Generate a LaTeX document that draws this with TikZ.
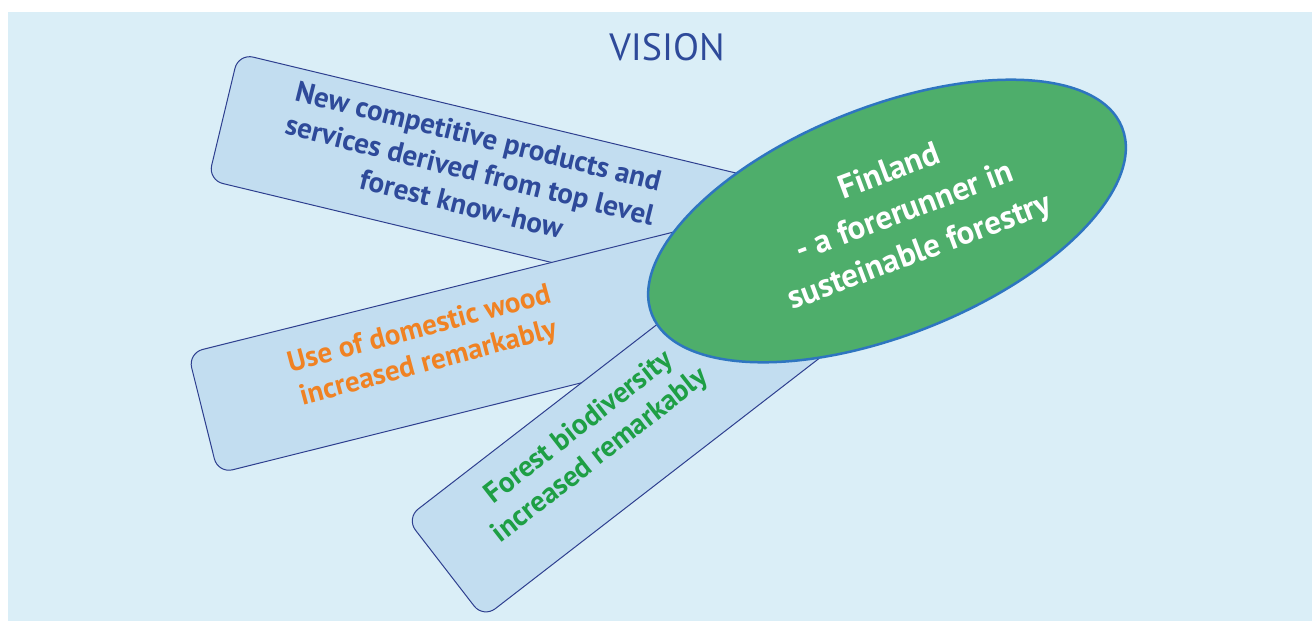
\documentclass[tikz,border=0pt]{standalone}
\usepackage{fontspec}
\setmainfont{PT Sans}
\usetikzlibrary{shapes.geometric}
\definecolor{bgblue}{HTML}{DAEEF7}
\definecolor{boxfill}{HTML}{C2DDF0}
\definecolor{boxline}{HTML}{2E3F8F}
\definecolor{ellfill}{HTML}{4EAE6B}
\definecolor{ellline}{HTML}{2E75C0}
\definecolor{txtblue}{HTML}{2E4A9A}
\definecolor{txtorange}{HTML}{F08223}
\definecolor{txtgreen}{HTML}{1E9F45}
\tikzset{
  boxshape/.style={rectangle, rounded corners=15pt, draw=boxline, fill=boxfill, line width=1pt, inner sep=0pt},
  boxtext/.style={align=center, inner sep=0pt, font=\bfseries\fontsize{29}{35}\selectfont},
  ellshape/.style={ellipse, draw=ellline, fill=ellfill, line width=2.5pt, inner sep=0pt, minimum width=506pt, minimum height=228pt},
  elltext/.style={align=center, inner sep=0pt, text=white, font=\bfseries\fontsize{33}{43}\selectfont},
  titletext/.style={inner sep=0pt, text=txtblue, font=\fontsize{38}{44}\selectfont}
}
\begin{document}
\begin{tikzpicture}[x=1pt,y=-1pt]
\useasboundingbox (0,0) rectangle (1312,621);
\fill[bgblue] (8,12) rectangle (1312,621);
\node[titletext] (title) at (667,47) {VISION};
\node[boxshape, minimum width=580pt, minimum height=130pt, rotate=-13.5] (b1) at (505.3,184.5) {};
\node[boxshape, minimum width=580pt, minimum height=124pt, rotate=14] (b2) at (484.4,343.1) {};
\node[boxshape, minimum width=500pt, minimum height=126pt, rotate=37.7] (b3) at (642.6,415.2) {};
\node[ellshape, rotate=21.7] (ell) at (887,221) {};
\node[boxtext, text=txtblue, rotate=-14] (t1) at (470,170) {New competitive products and\\services derived from top level\\forest know-how};
\node[boxtext, text=txtorange, rotate=15] (t2) at (424,347) {Use of domestic wood\\increased remarkably};
\node[boxtext, text=txtgreen, rotate=38] (t3) at (590,442) {Forest biodiversity\\increased remarkably};
\node[elltext, rotate=20.5] (t4) at (905,213) {Finland\\- a forerunner in\\susteinable forestry};
\end{tikzpicture}
\end{document}
